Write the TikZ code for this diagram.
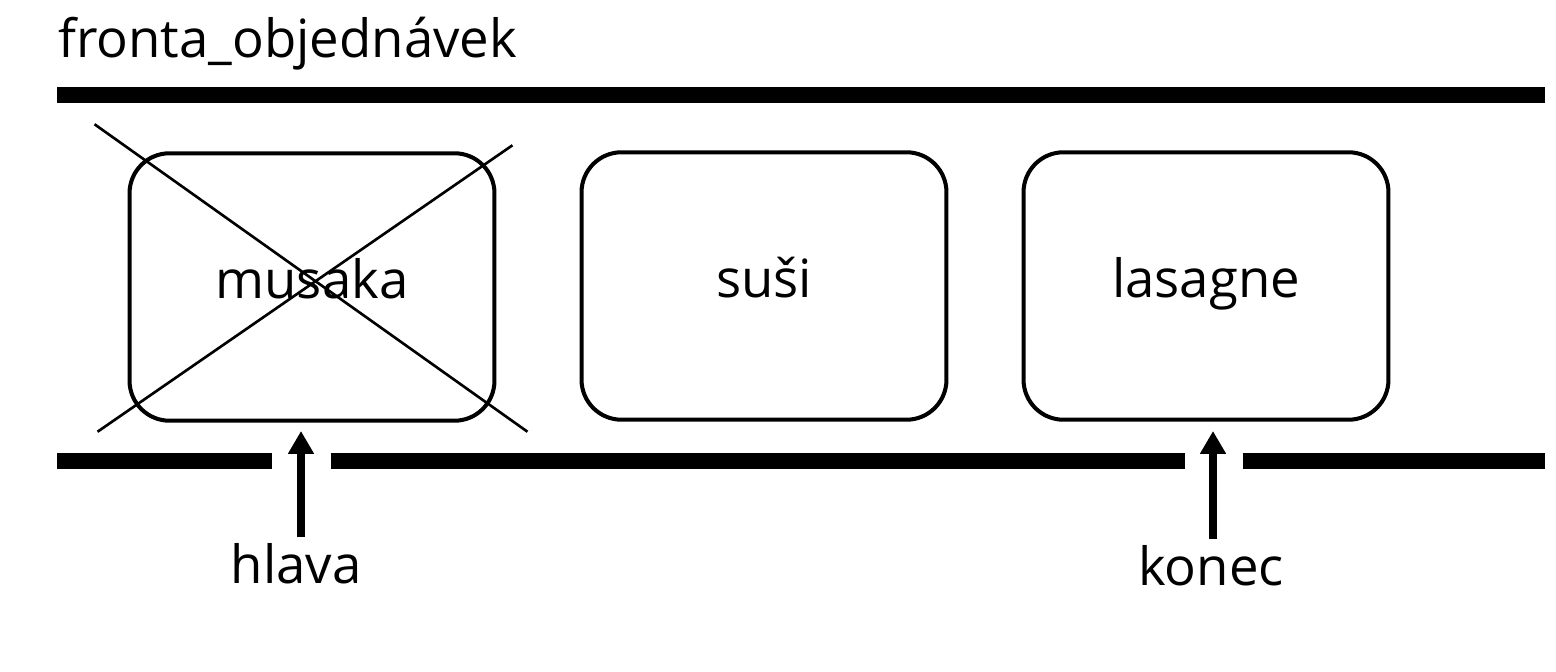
\documentclass[tikz,border=0pt]{standalone}
\usepackage{fontspec}
\setmainfont{Open Sans}
\usetikzlibrary{arrows.meta, positioning, calc}

\begin{document}
\begin{tikzpicture}[
  x=0.02cm, y=-0.02cm,
  bar/.style   = {line width=9pt},
  item/.style  = {draw, line width=2.3pt, rounded corners=0.8cm, minimum width=7.3cm,
                  minimum height=5.35cm, font=\fontsize{30}{36}\selectfont,
                  text height=1.3em, text depth=0pt},
  cross/.style = {line width=1.5pt},
  ptr/.style   = {line width=4pt, -{Triangle[length=13pt, width=14pt]}},
  lbl/.style   = {font=\fontsize{30}{36}\selectfont, anchor=base},
]
\useasboundingbox (0,0) rectangle (1556,672);

%── Title ─────────────────────────────────────────────────────────────────────
\node[anchor=base west, inner sep=0pt, font=\fontsize{30}{36}\selectfont]
      (title) at (58,58) {fronta\_objednávek};

%── Queue walls ───────────────────────────────────────────────────────────────
\coordinate (tl)  at (57,  95);
\coordinate (tr)  at (1545,95);
\draw[bar] (tl) -- (tr);

\coordinate (b0)  at (57,  461);
\coordinate (b1)  at (272, 461);
\coordinate (b2)  at (331, 461);
\coordinate (b3)  at (1185,461);
\coordinate (b4)  at (1243,461);
\coordinate (b5)  at (1545,461);
\draw[bar] (b0) -- (b1);
\draw[bar] (b2) -- (b3);
\draw[bar] (b4) -- (b5);

%── Items ─────────────────────────────────────────────────────────────────────
\node[item] (musaka)  at (312, 287) {musaka};
\node[item] (susi)    at (764, 286) {suši};
\node[item] (lasagne) at (1206,286) {lasagne};

% crossed-out head item
\draw[cross] ([shift={(-33,-27)}]musaka.north west) -- ([shift={(31,9)}]musaka.south east);
\draw[cross] ([shift={(-30,9)}]musaka.south west)   -- ([shift={(16,-6)}]musaka.north east);

%── Pointers ──────────────────────────────────────────────────────────────────
\node[lbl] (hlava) at (296,583) {hlava};
\node[lbl] (konec) at (1211,585) {konec};

\coordinate (htip) at (301, 431);
\coordinate (ktip) at (1213,431);
\draw[ptr] (hlava.north -| htip) -- (htip);
\draw[ptr] (konec.north -| ktip) -- (ktip);

\end{tikzpicture}
\end{document}
